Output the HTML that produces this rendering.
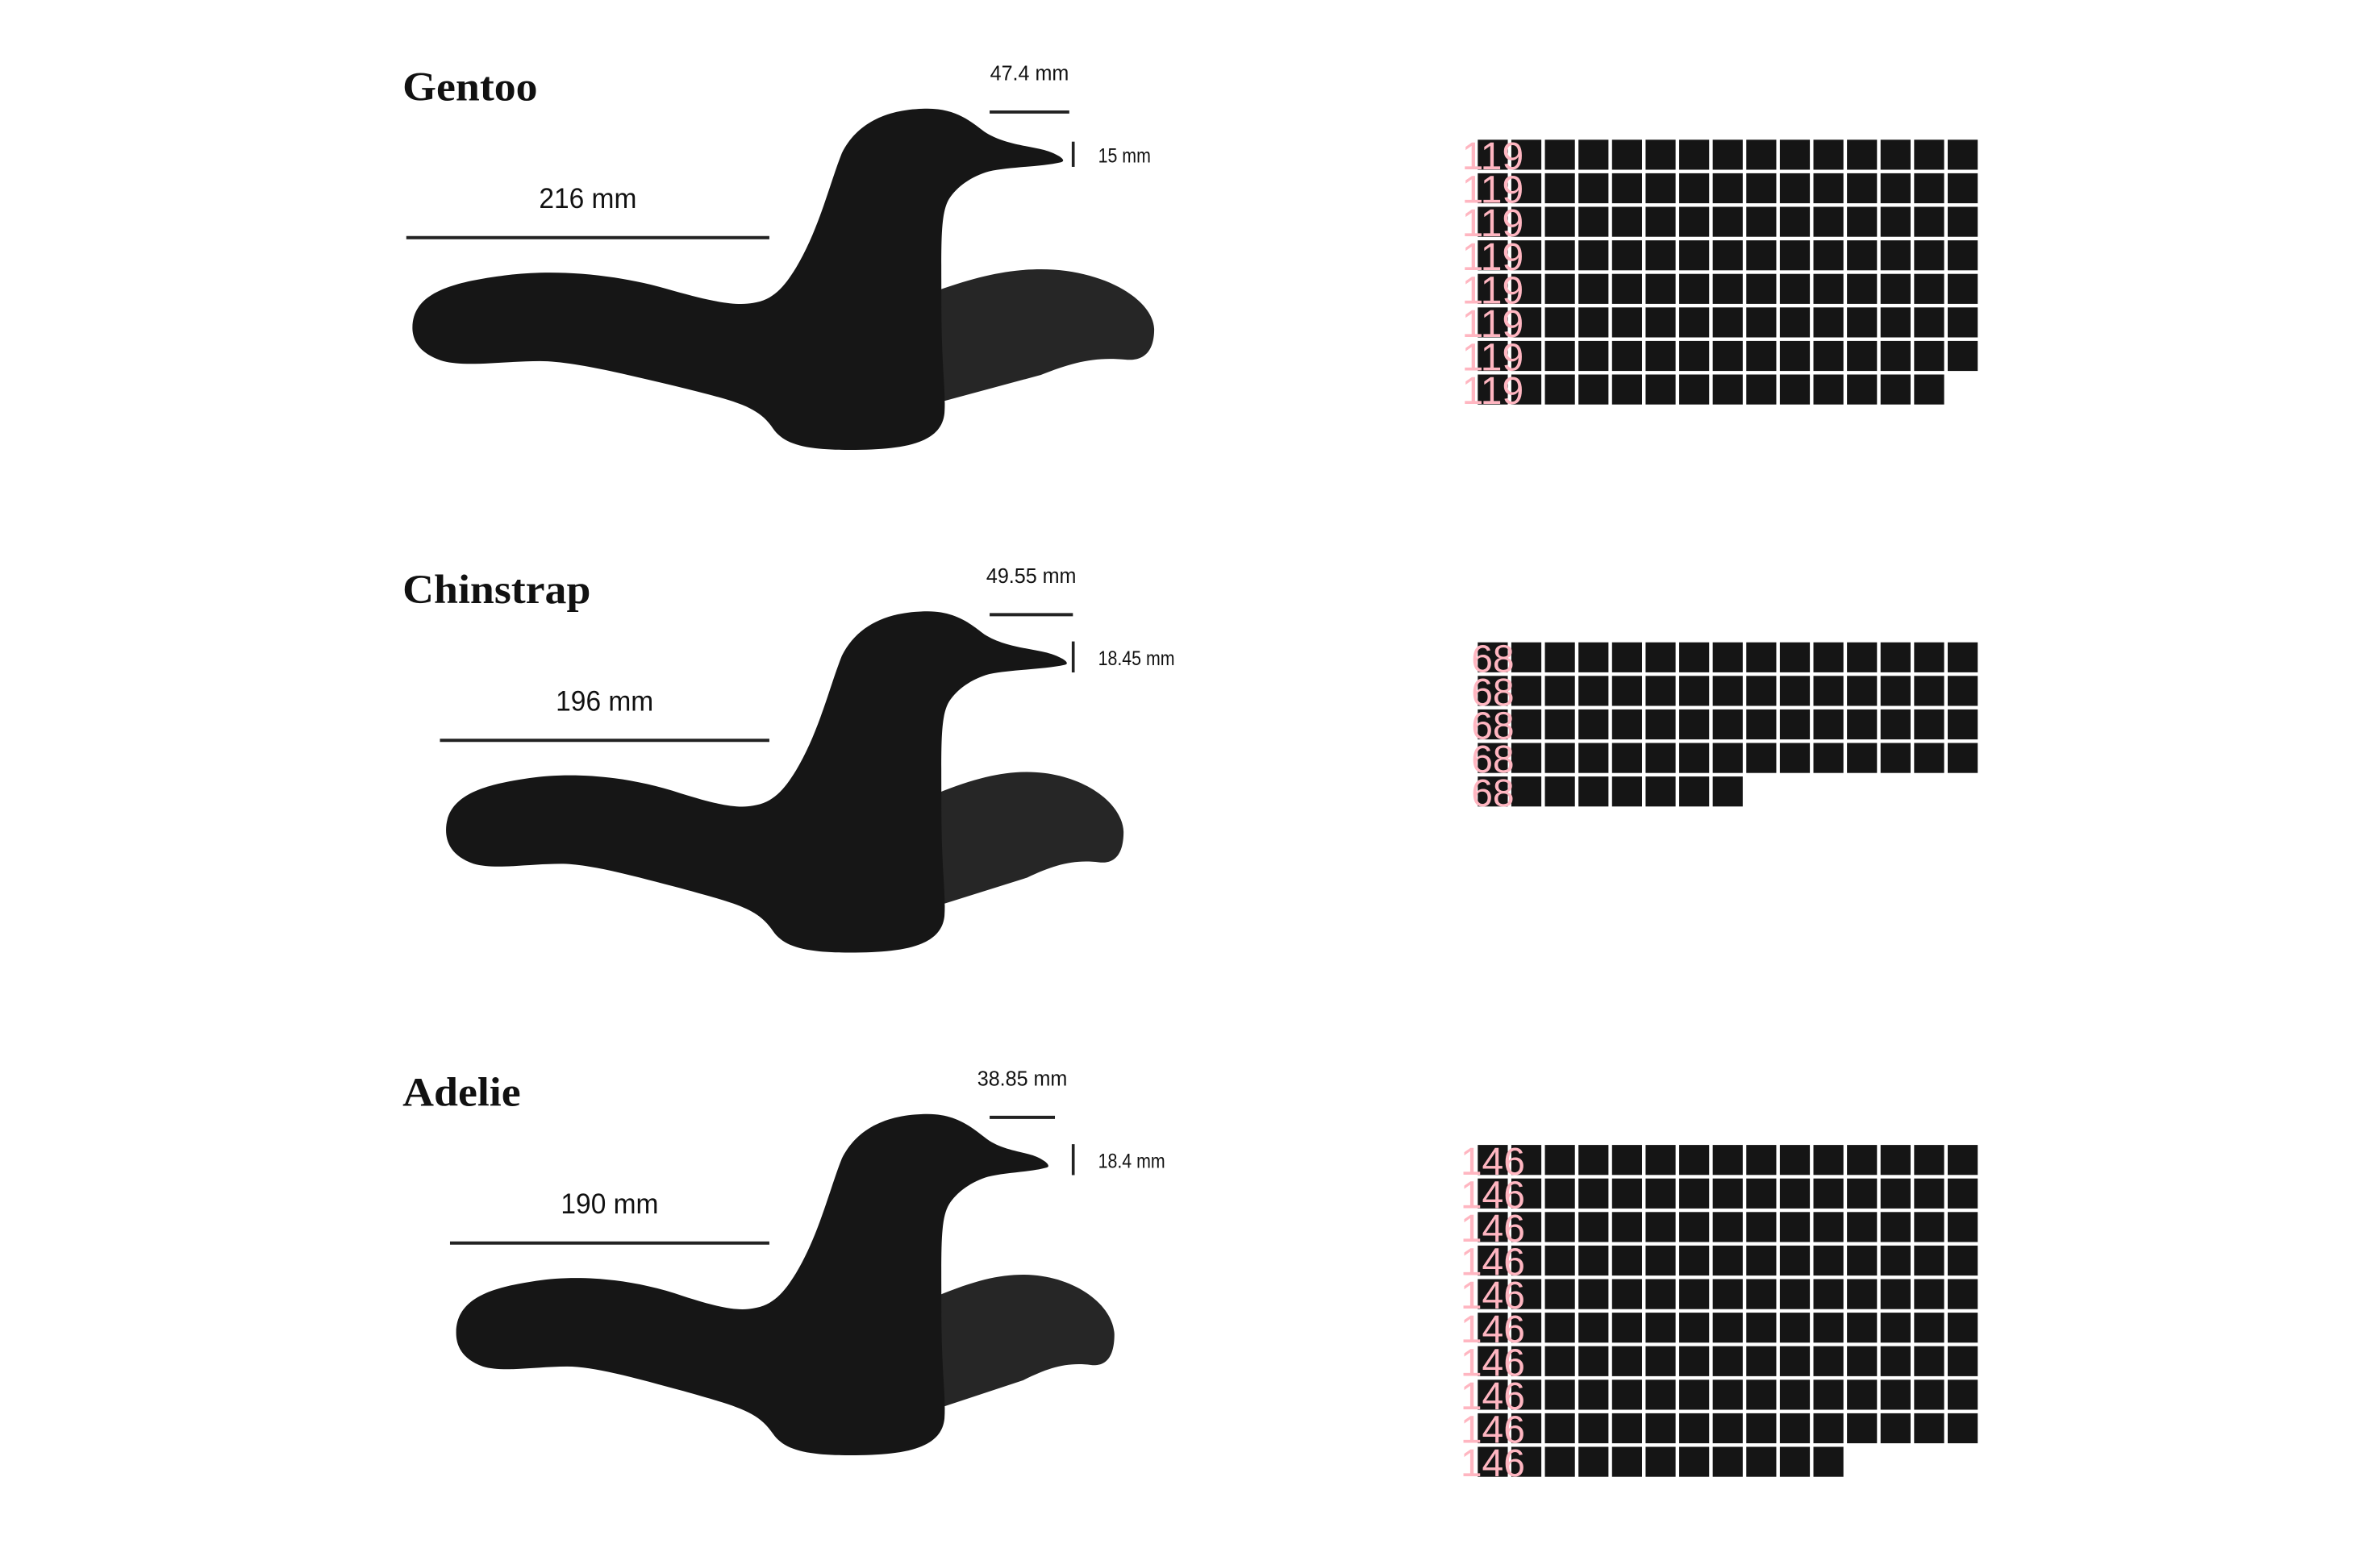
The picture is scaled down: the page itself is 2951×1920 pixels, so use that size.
<!DOCTYPE html>
<html><head><meta charset="utf-8"><style>
html,body{margin:0;padding:0;background:#fff;}
svg{display:block;}
</style></head><body>
<svg id="chart" width="2951" height="1920" viewBox="0 0 2951 1920" xmlns="http://www.w3.org/2000/svg">
<g id="birds" transform="scale(1.898)"></g>
<g id="waffles"></g>
</svg>
<script>
const species = ["Gentoo", "Chinstrap", "Adelie"];
const counts = [119, 68, 146];
const flipperMM = [216, 196, 190];
const beakLengthMM = [47.4, 49.55, 38.85];
const beakDepthMM = [15, 18.45, 18.4];

const NS = "http://www.w3.org/2000/svg";
const birds = document.getElementById('birds');
const waffles = document.getElementById('waffles');
function mk(tag, attrs, parent){ const e=document.createElementNS(NS,tag); for(const k in attrs) e.setAttribute(k,attrs[k]); parent.appendChild(e); return e; }

const bodyBase = "M 270 214 C 270 190 300 184 330 180 C 360 176 400 178 440 190 C 465 197 480 200 492 198 C 505 196 512 188 520 175 C 535 150 542 120 550 100 C 560 80 580 71 606 71 C 625 71 635 80 643 86 C 655 94 670 95 682 98 C 692 101 697 105 693 106 C 680 109 660 109 646 112 C 635 115 625 122 620 130 C 614 140 615 160 615 200 C 615 240 618 255 617 270 C 615 290 590 294 555 294 C 525 294 512 290 505 280 C 495 265 480 262 440 252 C 410 245 375 236 353 236 C 330 236 305 240 290 236 C 274 231 270 222 270 214 Z";
const wingBase = "M 612 190 C 640 180 660 176 680 176 C 720 176 753 195 754 215 C 754 232 745 236 735 235 C 715 233 700 237 680 245 L 617 262 Z";

function warp(path, fx){
  const toks = path.split(' ');
  const out=[]; let isX=true;
  for(const t of toks){
    if(/^[A-Za-z]$/.test(t)){ out.push(t); isX=true; continue; }
    const v=parseFloat(t);
    out.push(isX ? fx(v).toFixed(2) : v.toFixed(2));
    isX=!isX;
  }
  return out.join(' ');
}

const MM = 1.098;
const PANEL = 328.5;
const SANS = '"Liberation Sans", sans-serif';

function fit(t, factor){ try{ const w=t.getComputedTextLength(); t.setAttribute('textLength', (w*factor).toFixed(2)); t.setAttribute('lengthAdjust','spacingAndGlyphs'); }catch(e){} }

species.forEach((sp, i) => {
  const g = mk('g', {transform:`translate(0 ${i*PANEL})`}, birds);
  
  
  const flLen = flipperMM[i]*MM;
  const lineEnd = 502.6;
  const lineStart = lineEnd - flLen;
  const L = lineStart + 4;
  const blStart = 646.5;
  const blLen = beakLengthMM[i]*MM;
  const B = blStart + blLen - 5.4;
  const W = flipperMM[i] + 538;

  const wing = mk('path', {d: warp(wingBase, x => x>620 ? 620+(x-620)*(W-620)/134 : x), fill:'#262626'}, g);
  
  
  const body = mk('path', {d: warp(bodyBase, x => x<490 ? L+(x-270)*(490-L)/220 : (x>643 ? 643+(x-643)*(B-643)/50 : x)), fill:'#161616'}, g);
  
  

  const title = mk('text', {x:263, y:65.5, 'font-family':'"Liberation Serif", serif', 'font-weight':'bold', 'font-size':26.5, fill:'#111'}, g);
  title.textContent = sp;
  
  
  fit(title, 1.07);

  const fl = mk('line', {x1:lineStart, x2:lineEnd, y1:155.3, y2:155.3, stroke:'#222', 'stroke-width':2.1}, g);
  
  
  const flt = mk('text', {x:(lineStart+lineEnd)/2, y:136, 'text-anchor':'middle', 'font-family':SANS, 'font-size':18.4, fill:'#111'}, g);
  flt.textContent = flipperMM[i] + ' mm';
  
  
  fit(flt, 0.96);

  const bl = mk('line', {x1:blStart, x2:blStart+blLen, y1:73.2, y2:73.2, stroke:'#222', 'stroke-width':2.1}, g);
  
  
  const blt = mk('text', {x:blStart+blLen/2, y:52.5, 'text-anchor':'middle', 'font-family':SANS, 'font-size':13.5, fill:'#111'}, g);
  blt.textContent = beakLengthMM[i] + ' mm';
  
  
  fit(blt, 0.98);

  const bdLen = beakDepthMM[i]*MM;
  const bd = mk('line', {x1:701.1, x2:701.1, y1:100.8-bdLen/2, y2:100.8+bdLen/2, stroke:'#222', 'stroke-width':1.9}, g);
  
  
  const bdt = mk('text', {x:717.4, y:106.3, 'font-family':SANS, 'font-size':13.4, fill:'#111'}, g);
  bdt.textContent = beakDepthMM[i] + ' mm';
  
  
  fit(bdt, 0.84);

  // waffle
  const COLS = 15, X0 = 1832.3, PX = 41.62, PY = 41.6, CW = 37.2, CH = 37.2;
  const Y0 = 173.3 + i*623.4;
  const wg = mk('g', {}, waffles);
  
  
  const n = Math.round(counts[i]);
  for(let k=0;k<n;k++){
    const r = Math.floor(k/COLS), c = k%COLS;
    const cell = mk('rect', {x:X0+c*PX, y:Y0+r*PY, width:CW, height:CH, fill:'#151515'}, wg);
    
    
  }
  const rows = Math.ceil(n/COLS);
  for(let r=0;r<rows;r++){
    const t = mk('text', {x:X0+CW/2, y:Y0+r*PY+CH-0.5, 'text-anchor':'middle', 'font-family':SANS, 'font-size':48, fill:'#ffb6c1'}, wg);
    t.textContent = counts[i];
    
    
  }
});
</script>
</body></html>
